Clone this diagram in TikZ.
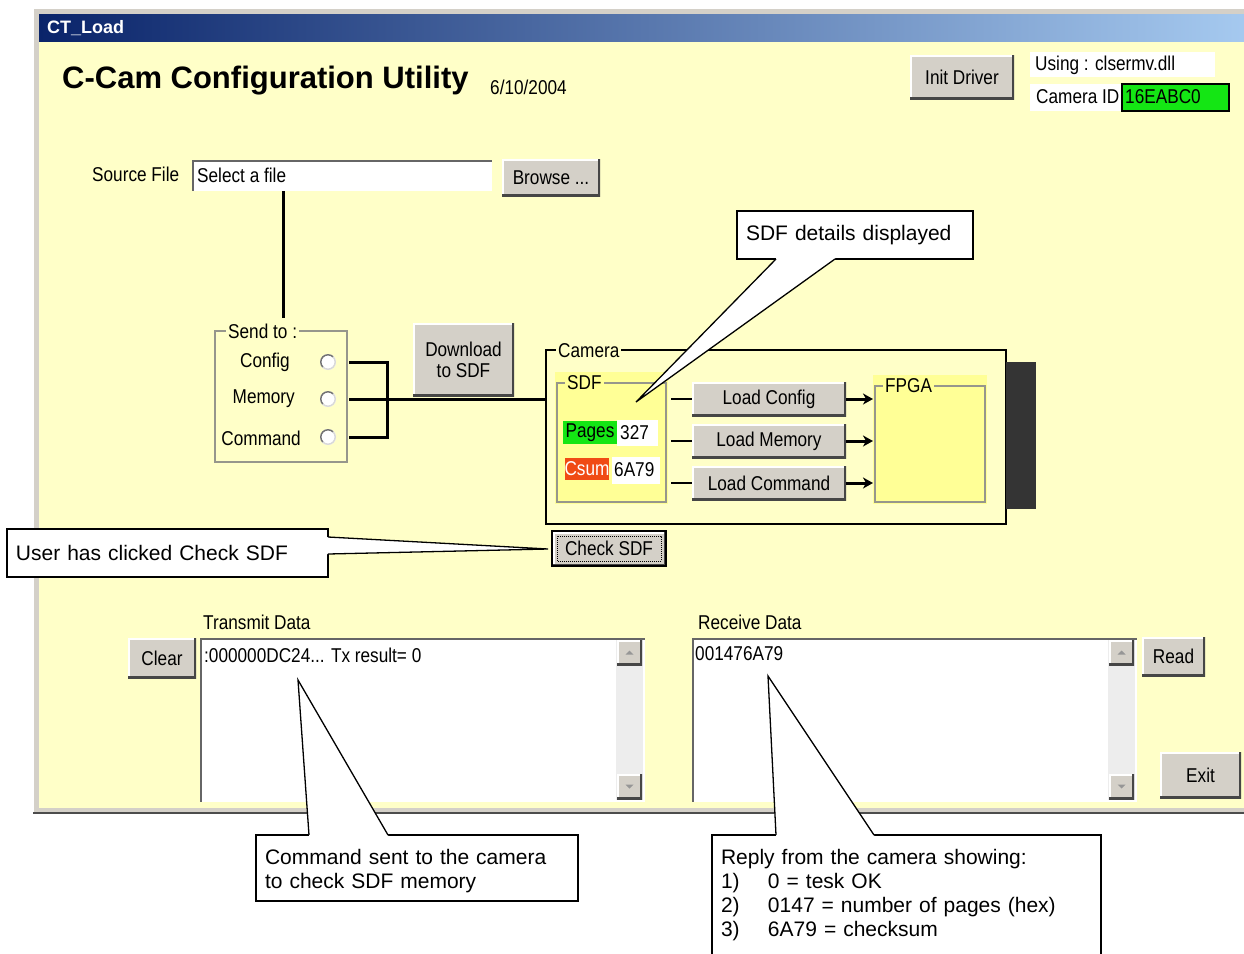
\documentclass[tikz,border=0pt]{standalone}
\usepackage{fontspec}
\setmainfont{Liberation Sans}
\newfontfamily\uiface[FakeStretch=0.86]{Liberation Sans}
\usetikzlibrary{arrows.meta}

\definecolor{winyellow}{RGB}{255,255,200}
\definecolor{sdfyellow}{RGB}{255,255,150}
\definecolor{btngray}{RGB}{212,208,200}
\definecolor{btnshadow}{RGB}{70,70,70}
\definecolor{framegray}{RGB}{212,208,200}
\definecolor{etchgray}{RGB}{150,150,140}
\definecolor{titleL}{RGB}{10,36,106}
\definecolor{titleR}{RGB}{166,202,240}
\definecolor{okgreen}{RGB}{20,230,20}
\definecolor{csumred}{RGB}{240,75,20}
\definecolor{darkblock}{RGB}{52,52,52}
\definecolor{arrowgray}{RGB}{150,150,150}

\newcommand\uifnt{\uiface\fontsize{20}{22}\selectfont}
\newcommand\notefnt{\fontsize{21}{24}\selectfont}

% box node given by its corners: [options]{name}{x1}{y1}{x2}{y2}{text}
\newcommand\bx[7][]{\node[inner sep=0pt, outer sep=0pt,
  minimum width={(#5)-(#3)}, minimum height={(#6)-(#4)}, #1]
  (#2) at ({((#3)+(#5))/2},{((#4)+(#6))/2}) {#7};}

\begin{document}
\begin{tikzpicture}[x=1pt,y=-1pt,
  btn/.style={fill=btngray, font=\uifnt, path picture={
    \draw[white, line width=3pt] (path picture bounding box.south west) --
      (path picture bounding box.north west) -- (path picture bounding box.north east);
    \draw[btnshadow, line width=5pt] (path picture bounding box.south west) --
      (path picture bounding box.south east) -- (path picture bounding box.north east);
  }},
  field/.style={fill=white, path picture={
    \draw[black!60, line width=4pt] (path picture bounding box.south west) --
      (path picture bounding box.north west) -- (path picture bounding box.north east);
  }},
  radio/.style={circle, fill=white, minimum size=16pt, inner sep=0pt, path picture={
    \draw[black!55, line width=3pt] ([shift={(45:8pt)}]path picture bounding box.center)
      arc[start angle=45, end angle=225, radius=8pt];
    \draw[black!15, line width=3pt] ([shift={(225:8pt)}]path picture bounding box.center)
      arc[start angle=225, end angle=405, radius=8pt];
  }},
  group/.style={draw=etchgray, line width=1.2pt},
  glabel/.style={anchor=west, fill=winyellow, font=\uifnt, inner sep=2pt},
  ui/.style={font=\uifnt, inner sep=1pt},
  wire/.style={line width=3pt},
  thinwire/.style={line width=1.5pt},
  arr/.style={line width=3pt, -{Stealth[length=10pt,width=11pt,inset=3pt]}},
  note/.style={draw=black, line width=1.3pt, fill=white, font=\notefnt, align=left},
  pointer/.style={draw=black, line width=1.3pt, line join=miter},
]
\useasboundingbox (0,0) rectangle (1244,953);
\clip (0,0) rectangle (1244,953);
\fill[white] (0,0) rectangle (1244,953);

% ---------- window frame ----------
\fill[framegray] (33,8) rectangle (1250,814);
\draw[white, line width=1pt] (33.5,814) -- (33.5,8.5) -- (1250,8.5);
\draw[black!70, line width=1.5pt] (33,813) -- (1250,813);
\shade[left color=titleL, right color=titleR] (39,14) rectangle (1250,42);
\fill[winyellow] (39,42) rectangle (1250,808);
\node[anchor=west, text=white, font=\bfseries\fontsize{18}{20}\selectfont, inner sep=0pt]
  (caption) at (47,28) {CT\_Load};

% ---------- heading ----------
\node[anchor=base west, font=\bfseries\fontsize{31}{34}\selectfont, inner sep=0pt]
  (heading) at (62,88) {C-Cam Configuration Utility};
\node[anchor=base west, font=\uifnt, inner sep=0pt] (date) at (490,94) {6/10/2004};

% ---------- driver / camera id ----------
\bx[btn]{init}{910}{55}{1014}{99}{Init Driver}
\bx[fill=white]{usingbox}{1030}{52}{1215}{77}{}
\node[ui, anchor=west] (using) at (1034,65) {Using : clsermv.dll};
\bx[fill=white]{camidbox}{1030}{84}{1122}{111}{}
\node[ui, anchor=west] (camid) at (1035,97) {Camera ID};
\bx[fill=okgreen, draw=black, line width=1.5pt]{camidval}{1122}{84}{1229}{111}{}
\node[ui, anchor=west] (camidtxt) at (1124,97) {16EABC0};

% ---------- source file ----------
\node[ui, anchor=west] (srclbl) at (91,174) {Source File};
\bx[field]{src}{192}{160}{492}{191}{}
\node[ui, anchor=west] (srctxt) at (196,175) {Select a file};
\bx[btn]{browse}{502}{159}{600}{196}{Browse ...}

% ---------- send to group ----------
\bx[group]{sendto}{215}{331}{347}{462}{}
\node[glabel] (sendlbl) at (226,331) {Send to :};
\node[ui, anchor=east] (lC) at (291,362) {Config};
\node[ui, anchor=east] (lM) at (296,399) {Memory};
\node[ui, anchor=east] (lK) at (302,438) {Command};
\node[radio] (rC) at (328,362) {};
\node[radio] (rM) at (328,399) {};
\node[radio] (rK) at (328,437) {};

\bx[btn, align=center, font=\uiface\fontsize{20}{21}\selectfont]{download}{413}{323}{514}{396}{Download\\to SDF}

% ---------- camera ----------
\bx[draw=black, line width=1.3pt]{cam}{546}{350}{1006}{524}{}
\node[glabel] (camlbl) at (556,351) {Camera};
\bx[fill=darkblock]{camblock}{1006}{362}{1036}{509}{}

\bx[fill=sdfyellow]{sdf}{555}{372}{668}{504}{}
\bx[group]{sdfframe}{557}{383}{666}{502}{}
\node[glabel, fill=sdfyellow] (sdflbl) at (565,383) {SDF};
\bx[fill=okgreen, font=\uifnt]{pages}{563}{421}{617}{444}{Pages}
\bx[fill=white]{pagesval}{617}{420}{658}{446}{}
\node[ui, anchor=west] (pagestxt) at (619,433) {327};
\bx[fill=csumred, text=white, font=\uifnt]{csum}{565}{458}{609}{480}{Csum}
\bx[fill=white]{csumval}{612}{457}{660}{484}{}
\node[ui, anchor=west] (csumtxt) at (613,470) {6A79};

\bx[btn]{LC}{692}{382}{846}{416}{Load Config}
\bx[btn]{LM}{692}{424}{846}{458}{Load Memory}
\bx[btn]{LK}{692}{466}{846}{500}{Load Command}

\bx[fill=sdfyellow]{fpga}{873}{375}{987}{504}{}
\bx[group]{fpgaframe}{875}{386}{985}{502}{}
\node[glabel, fill=sdfyellow] (fpgalbl) at (883,386) {FPGA};

% ---------- connections ----------
\coordinate (srcEnd) at (283,318);
\draw[wire] (srcEnd |- src.south) -- (srcEnd);
\coordinate (jn) at (387,399);
\draw[wire] ([xshift=21pt]rC.center) -| (jn);
\draw[wire] ([xshift=21pt]rK.center) -| (jn);
\draw[wire] ([xshift=21pt]rM.center) -- (rM.center -| cam.west);

\coordinate (sdfR) at (671,440);
\draw[thinwire] (sdfR |- LC.west) -- (LC.west);
\draw[thinwire] (sdfR |- LM.west) -- (LM.west);
\draw[thinwire] (sdfR |- LK.west) -- (LK.west);
\draw[arr] (LC.east) -- (LC.east -| fpga.west);
\draw[arr] (LM.east) -- (LM.east -| fpga.west);
\draw[arr] (LK.east) -- (LK.east -| fpga.west);

% ---------- check button ----------
\bx[fill=btngray, draw=black, line width=1.5pt, font=\uifnt, path picture={
    \draw[white, line width=3pt] ([shift={(1pt,1pt)}]path picture bounding box.south west) --
      ([shift={(1pt,-1pt)}]path picture bounding box.north west) -- ([shift={(-1pt,-1pt)}]path picture bounding box.north east);
    \draw[btnshadow, line width=3pt] ([shift={(1pt,1pt)}]path picture bounding box.south west) --
      ([shift={(-1pt,1pt)}]path picture bounding box.south east) -- ([shift={(-1pt,-1pt)}]path picture bounding box.north east);
    \draw[black, densely dotted, line width=1pt] ([shift={(5pt,5pt)}]path picture bounding box.south west)
      rectangle ([shift={(-5pt,-5pt)}]path picture bounding box.north east);
  }]{check}{552}{531}{666}{566}{Check SDF}

% ---------- transmit data ----------
\node[ui, anchor=west] (txlbl) at (202,622) {Transmit Data};
\bx[btn]{clear}{128}{638}{196}{678}{Clear}
\bx[field]{tx}{200}{638}{645}{802}{}
\node[ui, anchor=west] (txtxt) at (203,655) {:000000DC24... Tx result= 0};
\bx[fill=black!7]{txtrack}{616}{640}{643}{800}{}
\bx[btn]{txup}{617}{640}{642}{665}{}
\bx[btn]{txdn}{617}{774}{642}{799}{}
\fill[arrowgray] ([shift={(-4pt,-2pt)}]txup.center) -- ([shift={(4pt,-2pt)}]txup.center) -- ([shift={(0pt,2pt)}]txup.center) -- cycle;
\fill[arrowgray] ([shift={(-4pt,2pt)}]txdn.center) -- ([shift={(4pt,2pt)}]txdn.center) -- ([shift={(0pt,-2pt)}]txdn.center) -- cycle;

% ---------- receive data ----------
\node[ui, anchor=west] (rxlbl) at (697,622) {Receive Data};
\bx[field]{rx}{692}{638}{1137}{802}{}
\node[ui, anchor=west] (rxtxt) at (694,654) {001476A79};
\bx[fill=black!7]{rxtrack}{1108}{640}{1135}{800}{}
\bx[btn]{rxup}{1109}{640}{1134}{665}{}
\bx[btn]{rxdn}{1109}{774}{1134}{799}{}
\fill[arrowgray] ([shift={(-4pt,-2pt)}]rxup.center) -- ([shift={(4pt,-2pt)}]rxup.center) -- ([shift={(0pt,2pt)}]rxup.center) -- cycle;
\fill[arrowgray] ([shift={(-4pt,2pt)}]rxdn.center) -- ([shift={(4pt,2pt)}]rxdn.center) -- ([shift={(0pt,-2pt)}]rxdn.center) -- cycle;
\bx[btn]{read}{1142}{637}{1205}{676}{Read}
\bx[btn]{exit}{1160}{752}{1241}{798}{Exit}

% ---------- annotations ----------
\bx[note, text width=218pt]{nSDF}{737}{211}{973}{259}{SDF details displayed}
\coordinate (tSDF) at (636,402);
\fill[white] ([xshift=39pt,yshift=2pt]nSDF.south west) -- ([xshift=39pt]nSDF.south west) -- (tSDF)
  -- ([xshift=98pt]nSDF.south west) -- ([xshift=98pt,yshift=2pt]nSDF.south west) -- cycle;
\draw[pointer] ([xshift=39pt]nSDF.south west) -- (tSDF) -- ([xshift=98pt]nSDF.south west);

\bx[note, text width=303pt]{nUser}{7}{529}{328}{577}{User has clicked Check SDF}
\coordinate (tUser) at (548,549);
\fill[white] ([xshift=-2pt,yshift=-8pt]nUser.north east) -- ([yshift=-8pt]nUser.north east) -- (tUser)
  -- ([yshift=-25pt]nUser.north east) -- ([xshift=-2pt,yshift=-25pt]nUser.north east) -- cycle;
\draw[pointer] ([yshift=-8pt]nUser.north east) -- (tUser) -- ([yshift=-25pt]nUser.north east);

\bx[note, text width=304pt]{nCmd}{256}{835}{578}{901}{\rule{0pt}{21pt}Command sent to the camera\\to check SDF memory}
\coordinate (tCmd) at (298,680);
\fill[white] ([xshift=53pt,yshift=-2pt]nCmd.north west) -- ([xshift=53pt]nCmd.north west) -- (tCmd)
  -- ([xshift=132pt]nCmd.north west) -- ([xshift=132pt,yshift=-2pt]nCmd.north west) -- cycle;
\draw[pointer] ([xshift=53pt]nCmd.north west) -- (tCmd) -- ([xshift=132pt]nCmd.north west);

\bx[note, text width=371pt]{nRep}{712}{835}{1101}{955}{Reply from the camera showing:\\
  \makebox[47pt][l]{1)}0 = tesk OK\\
  \makebox[47pt][l]{2)}0147 = number of pages (hex)\\
  \makebox[47pt][l]{3)}6A79 = checksum}
\coordinate (tRep) at (768,676);
\fill[white] ([xshift=64pt,yshift=-2pt]nRep.north west) -- ([xshift=64pt]nRep.north west) -- (tRep)
  -- ([xshift=162pt]nRep.north west) -- ([xshift=162pt,yshift=-2pt]nRep.north west) -- cycle;
\draw[pointer] ([xshift=64pt]nRep.north west) -- (tRep) -- ([xshift=162pt]nRep.north west);
\end{tikzpicture}
\end{document}
